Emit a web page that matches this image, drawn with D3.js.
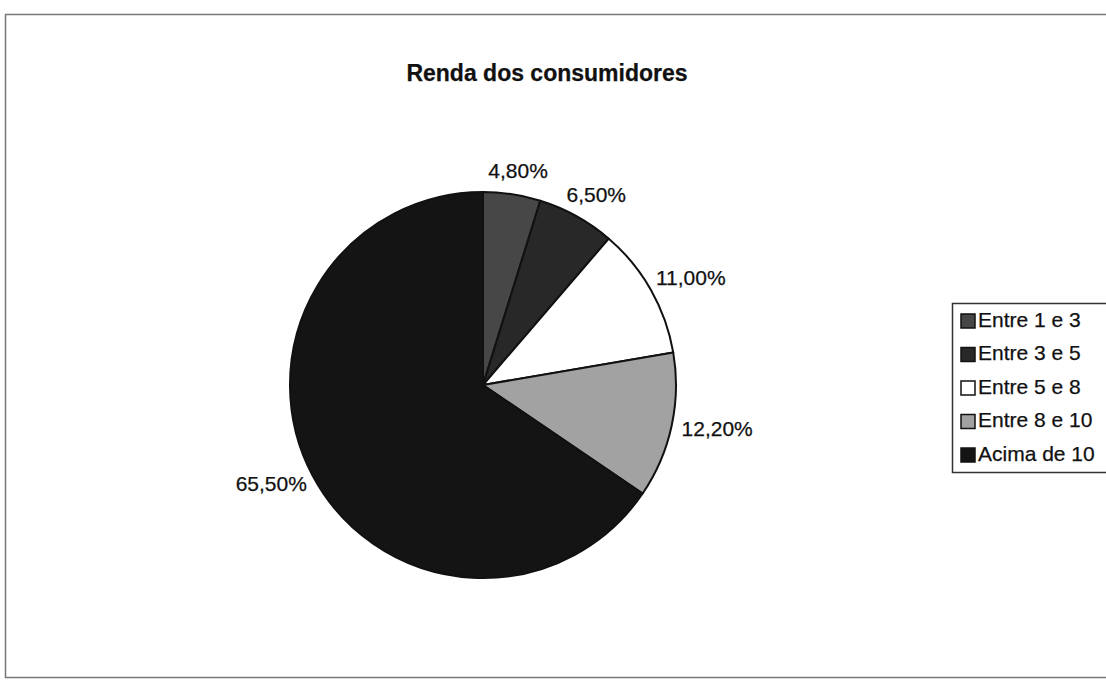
<!DOCTYPE html>
<html>
<head>
<meta charset="utf-8">
<script src="https://cdn.jsdelivr.net/npm/d3@7"></script>
<style>
  html, body { margin: 0; padding: 0; background: #fff; }
  svg { display: block; }
  text { font-family: "Liberation Sans", Arial, sans-serif; fill: #111; stroke: #111; stroke-width: 0.25px; }
</style>
</head>
<body>
<svg id="chart" width="1106" height="681"></svg>
<script>
const title = "Renda dos consumidores";
const categories = ["Entre 1 e 3", "Entre 3 e 5", "Entre 5 e 8", "Entre 8 e 10", "Acima de 10"];
const values = [4.8, 6.5, 11.0, 12.2, 65.5];
const labels = ["4,80%", "6,50%", "11,00%", "12,20%", "65,50%"];
const colors = ["#474747", "#282828", "#ffffff", "#a2a2a2", "#141414"];

const W = 1106, H = 681;
const svg = d3.select("#chart");

// frame
svg.append("rect")
  .attr("x", 5.5).attr("y", 14.5)
  .attr("width", W + 20).attr("height", 663)
  .attr("fill", "none").attr("stroke", "#777").attr("stroke-width", 1.5);

// title
svg.append("text")
  .attr("x", 547).attr("y", 75)
  .attr("text-anchor", "middle").attr("dominant-baseline", "middle")
  .style("font-size", "23px").style("font-weight", "bold")
  .text(title);

// pie
const cx = 483, cy = 385, R = 193;
const g = svg.append("g").attr("transform", `translate(${cx},${cy})`);
const pie = d3.pie().sort(null).value(d => d);
const arcs = pie(values);
const arc = d3.arc().innerRadius(0).outerRadius(R);

g.selectAll("path.slice").data(arcs).join("path")
  .attr("class", "slice")
  .attr("d", arc)
  .attr("fill", (d, i) => colors[i])
  .attr("stroke", "#111").attr("stroke-width", 2).attr("stroke-linejoin", "round");

// labels outside
const pad = 11;
g.selectAll("text.lbl").data(arcs).join("text")
  .attr("class", "lbl")
  .style("font-size", "21px")
  .attr("text-anchor", "middle").attr("dominant-baseline", "middle")
  .text((d, i) => labels[i])
  .each(function(d) {
    const a = (d.startAngle + d.endAngle) / 2;
    const w = this.getComputedTextLength();
    const h = 22;
    const s = Math.sin(a), c = -Math.cos(a);
    const x = (R + pad) * s + (w / 2) * s;
    const y = (R + pad) * c + (h / 2) * c;
    d3.select(this).attr("x", x).attr("y", y);
  });

// legend
const lx = 952, ly = 303, step = 33.5;
const leg = svg.append("g");
leg.append("rect")
  .attr("x", lx + 0.5).attr("y", ly + 0.5)
  .attr("width", 200).attr("height", 169)
  .attr("fill", "#fff").attr("stroke", "#333").attr("stroke-width", 1.5);
const items = leg.selectAll("g.item").data(categories).join("g")
  .attr("class", "item")
  .attr("transform", (d, i) => `translate(${lx + 9},${ly + 18 + i * step})`);
items.append("rect")
  .attr("x", 0).attr("y", -7).attr("width", 14).attr("height", 14)
  .attr("fill", (d, i) => colors[i]).attr("stroke", "#111").attr("stroke-width", 1.5);
items.append("text")
  .attr("x", 17).attr("y", 0)
  .attr("dominant-baseline", "middle")
  .style("font-size", "21px")
  .text(d => d);
</script>
</body>
</html>
